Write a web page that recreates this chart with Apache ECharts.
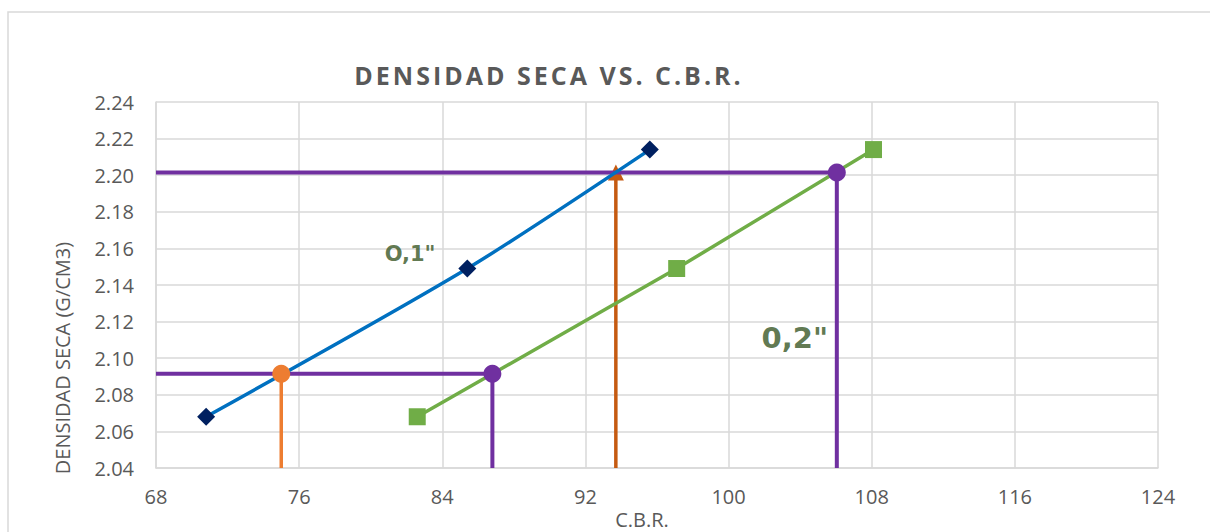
<!DOCTYPE html>
<html>
<head>
<meta charset="utf-8">
<script src="https://cdn.jsdelivr.net/npm/echarts@6/dist/echarts.min.js"></script>
<style>
html,body{margin:0;padding:0;background:#fff;}
#chart{width:1210px;height:532px;}
</style>
</head>
<body>
<div id="chart"></div>
<script>
// ---- data ----
const titleText = 'DENSIDAD SECA VS. C.B.R.';
const xAxisName = 'C.B.R.';
const yAxisName = 'DENSIDAD SECA (G/CM3)';
const xTicks = [68, 76, 84, 92, 100, 108, 116, 124];
const yTicks = [2.04, 2.06, 2.08, 2.10, 2.12, 2.14, 2.16, 2.18, 2.20, 2.22, 2.24];

// penetration 0,1"
const cbr01 = [70.8, 85.4, 95.6];
const dens01 = [2.068, 2.149, 2.214];
// penetration 0,2"
const cbr02 = [82.6, 97.1, 108.1];
const dens02 = [2.068, 2.149, 2.214];

// reading lines
const densLow = 2.0915;
const densHigh = 2.2015;
const cbr01Low = 75.0;
const cbr02Low = 86.8;
const cbr01High = 93.7;
const cbr02High = 106.05;

// label anchors (data coords)
const label01 = ['O,1"', 82.2, 2.157];
const label02 = ['0,2"', 103.7, 2.111];

const pairs = (xs, ys) => xs.map((x, i) => [x, ys[i]]);
const yMin = yTicks[0], yMax = yTicks[yTicks.length - 1];
const xMin = xTicks[0], xMax = xTicks[xTicks.length - 1];

const PURPLE = '#7030A0';
const gridColor = '#d9d9d9';
const textColor = '#595959';
const FONT = 'Open Sans';

function seg(data, color, width, z) {
  return { type: 'line', data: data, symbol: 'none', lineStyle: { color: color, width: width }, itemStyle: { color: color }, z: z, silent: true, animation: false };
}
function marker(pt, sym, size, color, z) {
  return { type: 'scatter', data: [pt], symbol: sym, symbolSize: size, itemStyle: { color: color, opacity: 1 }, z: z, animation: false };
}
function textLabel(l, size) {
  return { type: 'scatter', data: [[l[1], l[2]]], symbolSize: 1, itemStyle: { color: 'rgba(0,0,0,0)' }, z: 20,
    label: { show: true, position: 'inside', formatter: l[0], fontFamily: 'DejaVu Sans', fontWeight: 'bold', fontSize: size, color: '#375623' }, animation: false };
}

const chart = echarts.init(document.getElementById('chart'), null, { renderer: 'svg' });
const option = {
  backgroundColor: '#fff',
  animation: false,
  title: {
    text: titleText, left: 544, top: 57, textAlign: 'center',
    textStyle: { fontFamily: FONT, fontWeight: 'bold', fontSize: 25, color: textColor }
  },
  grid: { left: 156, right: 52, top: 102, bottom: 64 },
  xAxis: {
    type: 'value', min: xMin, max: xMax, interval: 8,
    axisLine: { show: true, lineStyle: { color: gridColor, width: 1.5 } },
    axisTick: { show: false },
    axisLabel: { color: textColor, fontFamily: FONT, fontSize: 20, margin: 18 },
    splitLine: { show: true, lineStyle: { color: gridColor, width: 1.5 } }
  },
  yAxis: {
    type: 'value', min: yMin, max: yMax, interval: 0.02,
    axisLine: { show: true, lineStyle: { color: gridColor, width: 1.5 } },
    axisTick: { show: false },
    axisLabel: { color: textColor, fontFamily: FONT, fontSize: 20, margin: 22, formatter: v => v.toFixed(2) },
    splitLine: { show: true, lineStyle: { color: gridColor, width: 1.5 } }
  },
  graphic: [
    { type: 'rect', shape: { x: 8, y: 12, width: 1300, height: 700 }, style: { fill: 'none', stroke: gridColor, lineWidth: 1.5 }, z: -10, silent: true },
    { type: 'text', x: 642, y: 519, style: { text: xAxisName, fontFamily: FONT, fontSize: 20, fill: textColor, align: 'center', verticalAlign: 'middle' } },
    { type: 'text', x: 62, y: 358, rotation: Math.PI / 2, style: { text: yAxisName, fontFamily: FONT, fontSize: 20, fill: textColor, align: 'center', verticalAlign: 'middle' } }
  ],
  series: [
    // reading lines
    seg([[xMin, densLow], [cbr02Low, densLow]], PURPLE, 4, 3),
    seg([[xMin, densHigh], [cbr02High, densHigh]], PURPLE, 4, 5),
    seg([[cbr01Low, yMin], [cbr01Low, densLow]], '#ED7D31', 3.5, 3),
    seg([[cbr02Low, yMin], [cbr02Low, densLow]], PURPLE, 4, 3),
    seg([[cbr01High, yMin], [cbr01High, densHigh]], '#C55A11', 3.5, 3),
    seg([[cbr02High, yMin], [cbr02High, densHigh]], PURPLE, 4, 3),
    // curves
    { type: 'line', name: '0,1"', data: pairs(cbr01, dens01), smooth: 0.25, symbol: 'diamond', symbolSize: 18,
      lineStyle: { color: '#0070C0', width: 3.5 }, itemStyle: { color: '#002060' }, z: 6, animation: false },
    { type: 'line', name: '0,2"', data: pairs(cbr02, dens02), symbol: 'rect', symbolSize: 17,
      lineStyle: { color: '#70AD47', width: 3.5 }, itemStyle: { color: '#70AD47' }, z: 6, animation: false },
    // markers
    marker([cbr01High, densHigh], 'triangle', 16, '#C55A11', 4),
    marker([cbr01Low, densLow], 'circle', 18, '#ED7D31', 8),
    marker([cbr02Low, densLow], 'circle', 18, PURPLE, 8),
    marker([cbr02High, densHigh], 'circle', 18, PURPLE, 8),
    // text labels
    textLabel(label01, 21),
    textLabel(label02, 29)
  ]
};
chart.setOption(option);

function spaceTitle() {
  document.querySelectorAll('#chart svg text').forEach(t => {
    if (t.textContent === titleText) t.setAttribute('letter-spacing', '3');
  });
}
spaceTitle();
chart.on('finished', spaceTitle);
</script>
</body>
</html>
